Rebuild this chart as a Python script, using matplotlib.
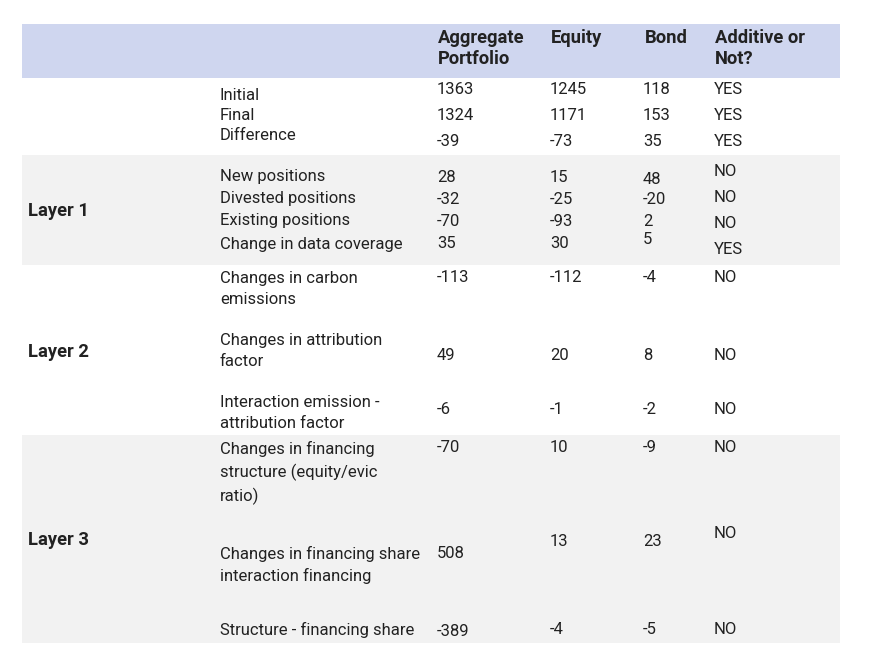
import matplotlib
matplotlib.use("Agg")
import matplotlib.pyplot as plt
from matplotlib.patches import Rectangle

headers = ["Aggregate\nPortfolio", "Equity", "Bond", "Additive or\nNot?"]
row_labels = ["Initial", "Final", "Difference",
              "New positions", "Divested positions", "Existing positions", "Change in data coverage",
              "Changes in carbon\nemissions", "Changes in attribution\nfactor", "Interaction emission -\nattribution factor",
              "Changes in financing\nstructure (equity/evic\nratio)", "Changes in financing share\ninteraction financing",
              "Structure - financing share"]
aggregate = ["1363", "1324", "-39", "28", "-32", "-70", "35", "-113", "49", "-6", "-70", "508", "-389"]
equity = ["1245", "1171", "-73", "15", "-25", "-93", "30", "-112", "20", "-1", "10", "13", "-4"]
bond = ["118", "153", "35", "48", "-20", "2", "5", "-4", "8", "-2", "-9", "23", "-5"]
additive = ["YES", "YES", "YES", "NO", "NO", "NO", "YES", "NO", "NO", "NO", "NO", "NO", "NO"]
layers = ["Layer 1", "Layer 2", "Layer 3"]

# layout (pixel positions)
label_y = [96, 116, 136, 177, 199, 221, 244, 289, 351, 413, 473, 565, 630]
agg_y = [89, 116, 142, 177, 199, 221, 244, 278, 356, 409, 447, 554, 631]
eq_y = [89, 116, 142, 177, 199, 221, 244, 278, 356, 409, 447, 542, 630]
bond_y = [89, 116, 142, 180, 200, 221, 239, 278, 356, 409, 447, 542, 630]
add_y = [89, 116, 142, 172, 198, 223, 249, 278, 356, 409, 447, 533, 630]
layer_y = [211, 352, 540]

fig = plt.figure(figsize=(8.7, 6.69), dpi=100)
ax = fig.add_axes([0, 0, 1, 1])
ax.set_xlim(0, 870); ax.set_ylim(669, 0); ax.axis("off")

ax.add_patch(Rectangle((22, 24), 818, 54, color="#cfd6ef", lw=0))
ax.add_patch(Rectangle((22, 155), 818, 110, color="#f2f2f2", lw=0))
ax.add_patch(Rectangle((22, 435), 818, 208, color="#f2f2f2", lw=0))

font = dict(family="Roboto", fontsize=12, color="#222222")
hfont = dict(family="Roboto", fontsize=13.2, color="#222222")
for x, h in zip([438, 551, 645, 715], headers):
    ax.text(x, 29, h, va="top", ha="left", fontweight="bold", linespacing=1.25, **hfont)
for i, lab in enumerate(row_labels):
    ax.text(220, label_y[i], lab, va="center", ha="left", linespacing=1.5, **font)
    ax.text(437, agg_y[i], aggregate[i], va="center", ha="left", **font)
    ax.text(550, eq_y[i], equity[i], va="center", ha="left", **font)
    ax.text(643, bond_y[i], bond[i], va="center", ha="left", **font)
    ax.text(714, add_y[i], additive[i], va="center", ha="left", **font)
for lab, y in zip(layers, layer_y):
    ax.text(28, y, lab, va="center", ha="left", fontweight="bold", **hfont)

fig.savefig("out.png", dpi=100)
